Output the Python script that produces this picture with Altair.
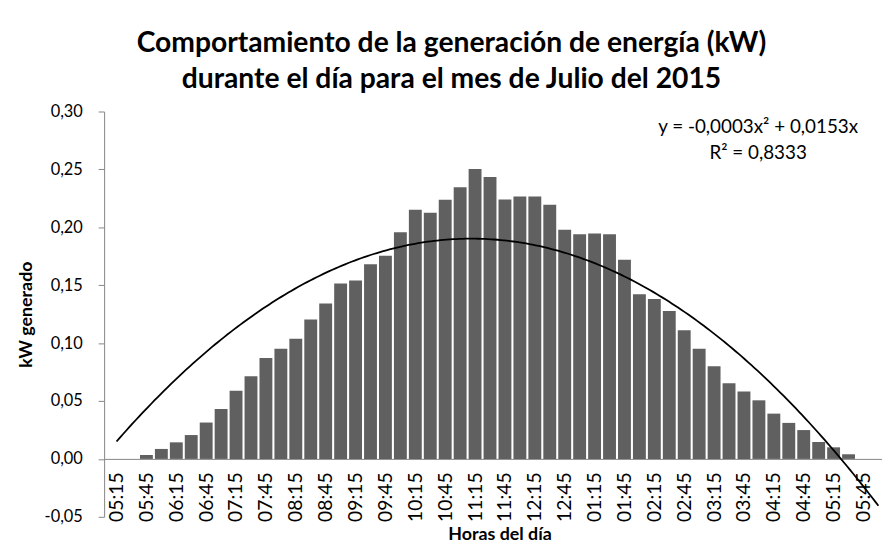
import altair as alt
import numpy as np
import pandas as pd

# 15-minute intervals (12-hour clock as in the original)
TIMES = ["05:15", "05:30", "05:45", "06:00", "06:15", "06:30", "06:45", "07:00",
         "07:15", "07:30", "07:45", "08:00", "08:15", "08:30", "08:45", "09:00",
         "09:15", "09:30", "09:45", "10:00", "10:15", "10:30", "10:45", "11:00",
         "11:15", "11:30", "11:45", "12:00", "12:15", "12:30", "12:45", "01:00",
         "01:15", "01:30", "01:45", "02:00", "02:15", "02:30", "02:45", "03:00",
         "03:15", "03:30", "03:45", "04:00", "04:15", "04:30", "04:45", "05:00",
         "05:15", "05:30", "05:45"]

KW = [0.0, 0.0, 0.0034, 0.0086, 0.0143, 0.0206, 0.0314, 0.0431,
      0.0589, 0.0714, 0.0871, 0.0951, 0.1037, 0.1203, 0.1343, 0.1514,
      0.1540, 0.1680, 0.1754, 0.1957, 0.2151, 0.2126, 0.2237, 0.2346,
      0.2503, 0.2434, 0.2240, 0.2266, 0.2266, 0.2194, 0.1980, 0.1940,
      0.1946, 0.1940, 0.1720, 0.1423, 0.1380, 0.1277, 0.1111, 0.0951,
      0.0800, 0.0654, 0.0583, 0.0506, 0.0391, 0.0311, 0.0249, 0.0146,
      0.0100, 0.0040, 0.0]

Y_TICKS = [-0.05, 0.0, 0.05, 0.10, 0.15, 0.20, 0.25, 0.30]
EQ_LINES = ["y = -0,0003x² + 0,0153x", "R² = 0,8333"]
TITLE_LINES = ["Comportamiento de la generación de energía (kW)",
               "durante el día para el mes de Julio del 2015"]

idx = np.arange(1, len(KW) + 1)
bars_df = pd.DataFrame({"idx": idx, "kw": KW})

# polynomial trendline (order 2, intercept 0) fitted to the data
A = np.column_stack([idx.astype(float) ** 2, idx.astype(float)])
coef, *_ = np.linalg.lstsq(A, np.array(KW), rcond=None)
xs = np.linspace(1, len(KW) + 1, 241)
trend_df = pd.DataFrame({"idx": xs, "kw": coef[0] * xs ** 2 + coef[1] * xs})

W, H = 785, 409
XMAX = 0.5 + W / 15.27
y0_off = H * (0.05 / 0.35)

label_arr = "[" + ",".join("'" + t + "'" for t in TIMES) + "]"

xscale = alt.Scale(domain=[0.5, XMAX], nice=False, zero=False)
yscale = alt.Scale(domain=[-0.05, 0.30], nice=False, zero=False)

xaxis = alt.Axis(
    values=list(range(1, len(TIMES) + 1, 2)),
    labelExpr=label_arr + "[datum.value - 1]",
    labelAngle=-90, labelAlign="right", labelBaseline="middle",
    ticks=False, labelPadding=13, offset=-y0_off,
    domainColor="#868686", grid=False,
    labelFontSize=19.5, labelColor="black", labelFlush=False, labelOverlap=False,
    title="Horas del día", titleFontSize=18, titleFontWeight="bold",
    titleColor="black", titlePadding=4, titleX=399)

yaxis = alt.Axis(
    values=Y_TICKS,
    labelExpr="replace(replace(format(datum.value, '.2f'), '.', ','), '\u2212', '-')",
    tickSize=6, tickColor="#868686", domainColor="#868686",
    labelPadding=16, labelFontSize=16.5, labelColor="black", grid=False,
    title="kW generado", titleFontSize=18, titleFontWeight="bold",
    titleColor="black", titlePadding=9)

bars = alt.Chart(bars_df).mark_bar(size=13, color="#606060").encode(
    x=alt.X("idx:Q", scale=xscale, axis=xaxis),
    y=alt.Y("kw:Q", scale=yscale, axis=yaxis),
)

trend = alt.Chart(trend_df).mark_line(color="black", strokeWidth=1.8, clip=True).encode(
    x=alt.X("idx:Q", scale=xscale, axis=xaxis),
    y=alt.Y("kw:Q", scale=yscale, axis=yaxis),
)

eq = alt.Chart(pd.DataFrame({"a": [0]})).mark_text(
    text=EQ_LINES, fontSize=19, align="center", baseline="middle",
    lineHeight=26, color="black").encode(
    x=alt.value(660), y=alt.value(16))

chart = alt.layer(bars, trend, eq).properties(
    width=W, height=H,
    autosize=alt.AutoSizeParams(type="none"),
    padding={"left": 97, "top": 102, "right": 0, "bottom": 27},
    title=alt.TitleParams(text=TITLE_LINES, fontSize=28.5, font="Lato",
                          fontWeight="bold", anchor="middle", dx=-42,
                          lineHeight=37, color="black", offset=10),
).configure(font="Lato").configure_view(stroke=None)

chart.save("out.html", embed_options={"renderer": "svg", "actions": False})
